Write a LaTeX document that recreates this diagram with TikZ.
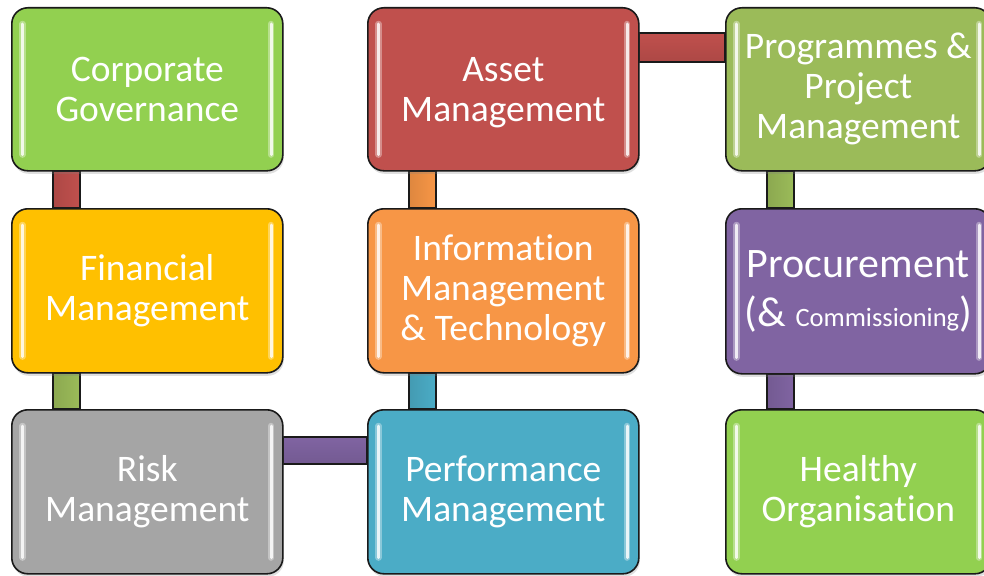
\documentclass[tikz,border=0pt]{standalone}
\usepackage{fontspec}
\setmainfont{Carlito}[Ligatures=NoCommon]
\usetikzlibrary{shadows}

% palette
\definecolor{cgreen}{HTML}{92D050}
\definecolor{cgold}{HTML}{FFC000}
\definecolor{cgrey}{HTML}{A5A5A5}
\definecolor{cred}{HTML}{C0504D}
\definecolor{corange}{HTML}{F79646}
\definecolor{cblue}{HTML}{4BACC6}
\definecolor{colive}{HTML}{9BBB59}
\definecolor{cpurple}{HTML}{8064A2}
\definecolor{cedge}{HTML}{1A1A1A}

\pgfdeclarelayer{links}
\pgfsetlayers{links,main}

\tikzset{
  area/.style={draw=cedge, line width=1.6pt, rounded corners=16pt,
    fill=#1, anchor=north west, inner sep=0pt, align=center,
    text=white, font=\fontsize{37.5}{40}\selectfont,
    drop shadow={opacity=0.25, shadow xshift=1pt, shadow yshift=-3pt}},
  vlink/.style={draw=cedge, line width=1.4pt,
    left color=#1!90!black, middle color=#1!70!white, right color=#1},
  hlink/.style={draw=cedge, line width=1.4pt,
    top color=#1, middle color=#1!70!white, bottom color=#1!90!black},
  glint/.style={line width=3pt, line cap=round, draw=#1!12!white},
  halo/.style={line width=6.5pt, line cap=round, draw=#1!50!white, opacity=0.7},
}

% two highlight strokes along the inner left and right edges of a box
\newcommand{\glints}[2]{%
  \foreach \side/\dx in {west/11.5pt, east/-12.5pt}{%
    \draw[halo=#2] ([xshift=\dx,yshift=-17pt]#1.north \side) -- ([xshift=\dx,yshift=17pt]#1.south \side);
    \draw[glint=#2] ([xshift=\dx,yshift=-17pt]#1.north \side) -- ([xshift=\dx,yshift=17pt]#1.south \side);
  }}

\begin{document}
\begin{tikzpicture}[x=1pt, y=-1pt]
\useasboundingbox (0,0) rectangle (984,575);
\begin{scope}
\clip (0,0) rectangle (984,575);

% boxes
\node[area=cgreen, minimum width=271pt, minimum height=163pt] (cg) at (11,7) {Corporate\\Governance};
\node[area=cgold, minimum width=271pt, minimum height=164pt] (fm) at (11,208) {Financial\\Management};
\node[area=cgrey, minimum width=271pt, minimum height=164pt] (rm) at (11,409) {Risk\\Management};
\node[area=cred, minimum width=271pt, minimum height=163pt] (am) at (367,7) {\rule{0pt}{30pt}Asset\\Management};
\node[area=corange, minimum width=271pt, minimum height=164pt] (im) at (367,208) {Information\\Management\\\& Technology};
\node[area=cblue, minimum width=271pt, minimum height=164pt] (pm) at (367,409) {Performance\\Management};
\node[area=colive, minimum width=265pt, minimum height=163pt] (pp) at (725,7) {Programmes \&\\Project\\Management};
\node[area=cpurple, minimum width=265pt, minimum height=165pt, font=\fontsize{42}{49}\selectfont] (pc) at (725,208)
  {Procurement\\(\& {\fontsize{26.5}{30}\selectfont Commissioning})};
\node[area=cgreen, minimum width=265pt, minimum height=164pt] (ho) at (725,409) {Healthy\\Organisation};

% edge highlights
\glints{cg}{cgreen}
\glints{fm}{cgold}
\glints{rm}{cgrey}
\glints{am}{cred}
\glints{im}{corange}
\glints{pm}{cblue}
\glints{pp}{colive}
\glints{pc}{cpurple}
\glints{ho}{cgreen}

% links, underneath the boxes
\begin{pgfonlayer}{links}
  \path[vlink=cred]    ([xshift=42pt]cg.south west) rectangle ([xshift=69pt]fm.north west);
  \path[vlink=colive]  ([xshift=42pt]fm.south west) rectangle ([xshift=69pt]rm.north west);
  \path[hlink=cpurple] ([yshift=-28pt]rm.north east) rectangle ([yshift=-55pt]pm.north west);
  \path[vlink=cblue]   ([xshift=42pt]im.south west) rectangle ([xshift=69pt]pm.north west);
  \path[vlink=corange] ([xshift=42pt]am.south west) rectangle ([xshift=69pt]im.north west);
  \path[hlink=cred]    ([yshift=-26pt]am.north east) rectangle ([yshift=-55pt]pp.north west);
  \path[vlink=colive]  ([xshift=42pt]pp.south west) rectangle ([xshift=69pt]pc.north west);
  \path[vlink=cpurple] ([xshift=42pt]pc.south west) rectangle ([xshift=69pt]ho.north west);
\end{pgfonlayer}
\end{scope}
\end{tikzpicture}
\end{document}
